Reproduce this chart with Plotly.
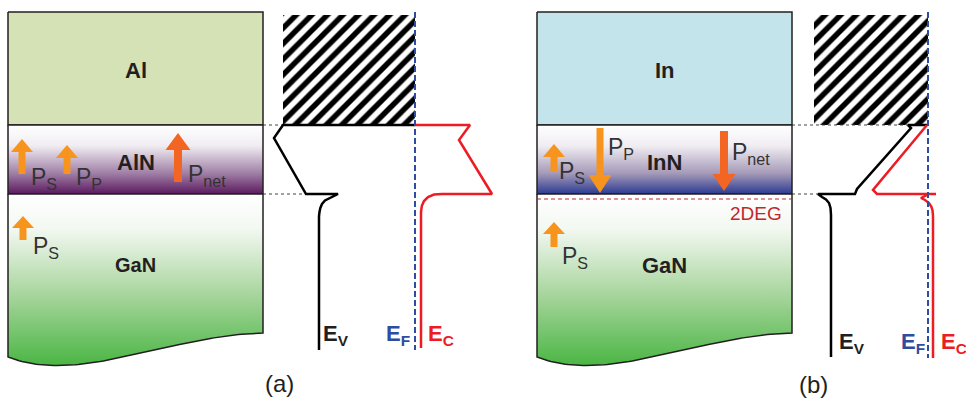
import numpy as np
import plotly.graph_objects as go

W, H = 966, 400
FONT = "Liberation Sans, Arial, sans-serif"
DARK = "#231f20"
BLUE = "#2e4da0"
RED = "#ed1c24"
ORANGE = "#f7941d"
ORANGE2 = "#f26522"

# ---------------- diagram content ----------------
panel_offset = [0, 529]
panel_tags = ["(a)", "(b)"]
metal_names = ["Al", "In"]
barrier_names = ["AlN", "InN"]
channel_name = "GaN"
metal_colors = ["#d4e2b6", "#c4e4eb"]
barrier_bottom_colors = ["#5a1a5e", "#2b3a92"]

# layer boundaries (px in a 966x400 canvas)
box_x = [8, 263]
layer_y = [12, 125, 194]
wave_ctrl_x = [8, 80, 170, 263]
wave_ctrl_y = [357, 385, 335, 333]

# hatched metal (filled states) boxes
hatch_x0 = [283, 814]
hatch_x1 = [415, 928]
hatch_y = [15, 125]

# Fermi levels
ef_x = [415, 928]
ef_y_end = [350, 358]

# valence band edges
ev_a_x = [415, 283, 274, 306, 338, 329, 325, 322, 320.3, 319.5, 319, 319]
ev_a_y = [125, 125, 138, 194, 194, 198, 200.5, 204, 208, 212, 216, 350]
ev_b_x = [927, 908, 911, 857, 855, 818, 822, 826, 829, 830.5, 831, 831]
ev_b_y = [125, 125, 128, 189, 194, 194, 197, 199.5, 203, 208, 215, 357]

# conduction band edges
ec_a_x = [415, 470, 459, 492, 442, 434, 428, 424, 421.8, 421, 421]
ec_a_y = [125, 125, 140, 194, 194, 194.6, 197, 201, 206, 212, 348]
ec_b1_x = [927, 873, 877, 936]
ec_b1_y = [125, 190, 194, 194]
ec_b2_x = [928, 921, 925, 929, 931.5, 932.6, 933, 933]
ec_b2_y = [194.5, 198, 200, 203, 207, 211, 216, 358]

# dotted guide lines
guide_x0 = [263, 263, 792, 792]
guide_x1 = [283, 303, 908, 818]
guide_y = [125, 194, 125, 194]

# polarization arrows
arrow_x = [22, 67, 178, 23, 554, 600, 724, 554]
arrow_tail = [174, 174, 182, 240, 171, 128, 131, 247]
arrow_tip = [139, 145, 133, 216, 144, 193, 191, 222]
arrow_color = [ORANGE, ORANGE, ORANGE2, ORANGE, ORANGE, ORANGE, ORANGE2, ORANGE]
arrow_headw = [22, 22, 25, 22, 22, 23, 23, 22]
arrow_headl = [13, 13, 17, 12, 13, 18, 17, 12]
arrow_shaft = [7, 7, 8, 7, 7, 7, 8, 7]

# polarization labels
pol_text = ["P<sub>S</sub>", "P<sub>P</sub>", "P<sub>net</sub>", "P<sub>S</sub>",
            "P<sub>S</sub>", "P<sub>P</sub>", "P<sub>net</sub>", "P<sub>S</sub>"]
pol_x = [29, 74, 186, 31, 557, 606, 730, 560]
pol_y = [178, 178, 175, 247, 172, 148, 153, 257]

# band labels
band_text = ["E<sub>V</sub>", "E<sub>F</sub>", "E<sub>C</sub>",
             "E<sub>V</sub>", "E<sub>F</sub>", "E<sub>C</sub>"]
band_color = [DARK, BLUE, RED, DARK, BLUE, RED]
band_x = [321, 384, 426, 837, 899, 939]
band_y = [335, 335, 335, 343, 343, 343]


def bezier(px, py, n=80):
    t = np.linspace(0, 1, n)
    b = [(1 - t) ** 3, 3 * (1 - t) ** 2 * t, 3 * (1 - t) * t ** 2, t ** 3]
    bx = sum(b[i] * px[i] for i in range(4))
    by = sum(b[i] * py[i] for i in range(4))
    return bx, by


fig = go.Figure()

wx, wy = bezier(wave_ctrl_x, wave_ctrl_y)

for p in range(2):
    o = panel_offset[p]
    xl, xr = box_x[0] + o, box_x[1] + o
    # metal layer
    fig.add_trace(go.Scatter(
        x=[xl, xr, xr, xl, xl], y=[layer_y[0], layer_y[0], layer_y[1], layer_y[1], layer_y[0]],
        fill="toself", fillcolor=metal_colors[p], mode="lines",
        line=dict(color=DARK, width=1.5), hoverinfo="skip"))
    # barrier layer (gradient)
    fig.add_trace(go.Scatter(
        x=[xl, xr, xr, xl, xl], y=[layer_y[1], layer_y[1], layer_y[2], layer_y[2], layer_y[1]],
        fill="toself", mode="lines", line=dict(color=DARK, width=1.5), hoverinfo="skip",
        fillgradient=dict(type="vertical", start=layer_y[1], stop=layer_y[2],
                          colorscale=[[0, "#ffffff"], [0.3, "#f0edf2"], [0.7, "#a59ab8" if p else "#a07fa6"],
                                      [1, barrier_bottom_colors[p]]])))
    # GaN with wavy bottom
    gx = [xl, xr] + list(wx[::-1] + o) + [xl]
    gy = [layer_y[2], layer_y[2]] + list(wy[::-1]) + [layer_y[2]]
    fig.add_trace(go.Scatter(
        x=gx, y=gy, fill="toself", mode="lines", line=dict(color=DARK, width=1.5),
        hoverinfo="skip",
        fillgradient=dict(type="vertical", start=layer_y[2], stop=368,
                          colorscale=[[0, "#ffffff"], [0.2, "#f3f8f1"], [0.6, "#a3d398"],
                                      [1, "#47b541"]])))
    # hatched box
    fig.add_trace(go.Scatter(
        x=[hatch_x0[p], hatch_x1[p], hatch_x1[p], hatch_x0[p], hatch_x0[p]],
        y=[hatch_y[0], hatch_y[0], hatch_y[1], hatch_y[1], hatch_y[0]],
        fill="toself", fillcolor="white", mode="lines", line=dict(width=0, color="white"),
        fillpattern=dict(shape="/", size=11, solidity=0.5, fgcolor="black", bgcolor="white",
                         fgopacity=1),
        hoverinfo="skip"))

# 2DEG line
fig.add_trace(go.Scatter(x=[537, 792], y=[199, 199], mode="lines",
                         line=dict(color="#c1272d", width=1.2, dash="4px,3px"), hoverinfo="skip"))

# dotted guides
for i in range(len(guide_y)):
    fig.add_trace(go.Scatter(x=[guide_x0[i], guide_x1[i]], y=[guide_y[i], guide_y[i]],
                             mode="lines", line=dict(color="#444", width=1.2, dash="dot"),
                             hoverinfo="skip"))

# band edges
for xs, ys, c in [(ev_a_x, ev_a_y, "black"), (ev_b_x, ev_b_y, "black"),
                  (ec_a_x, ec_a_y, RED), (ec_b1_x, ec_b1_y, RED), (ec_b2_x, ec_b2_y, RED)]:
    fig.add_trace(go.Scatter(x=xs, y=ys, mode="lines", line=dict(color=c, width=2.5),
                             hoverinfo="skip"))

# Fermi levels
for p in range(2):
    fig.add_trace(go.Scatter(x=[ef_x[p], ef_x[p]], y=[12, ef_y_end[p]], mode="lines",
                             line=dict(color=BLUE, width=2, dash="6px,3px"), hoverinfo="skip"))

# arrows
for i in range(len(arrow_x)):
    xc, t0, t1 = arrow_x[i], arrow_tail[i], arrow_tip[i]
    d = 1 if t1 > t0 else -1
    base = t1 - d * arrow_headl[i]
    sw, hw = arrow_shaft[i] / 2, arrow_headw[i] / 2
    ax = [xc - sw, xc - sw, xc - hw, xc, xc + hw, xc + sw, xc + sw, xc - sw]
    ay = [t0, base, base, t1, base, base, t0, t0]
    fig.add_trace(go.Scatter(x=ax, y=ay, fill="toself", fillcolor=arrow_color[i], mode="lines",
                             line=dict(width=0, color=arrow_color[i]), hoverinfo="skip"))

ann = []
for p in range(2):
    o = panel_offset[p]
    cx = (box_x[0] + box_x[1]) / 2 + o
    ann.append(dict(x=cx, y=70, text="<b>%s</b>" % metal_names[p],
                    font=dict(size=22, color=DARK)))
    ann.append(dict(x=cx, y=162, text="<b>%s</b>" % barrier_names[p], font=dict(size=22, color=DARK)))
    ann.append(dict(x=cx, y=265, text="<b>%s</b>" % channel_name, font=dict(size=20 if p == 0 else 22, color=DARK)))
ann.append(dict(x=279, y=383, text=panel_tags[0], font=dict(size=24, color=DARK)))
ann.append(dict(x=813, y=384, text=panel_tags[1], font=dict(size=24, color=DARK)))
ann.append(dict(x=756, y=213, text="2DEG", font=dict(size=19, color="#c1272d")))
for i in range(len(pol_text)):
    ann.append(dict(x=pol_x[i], y=pol_y[i], text=pol_text[i], xanchor="left",
                    font=dict(size=23, color="#333333")))
for i in range(len(band_text)):
    ann.append(dict(x=band_x[i], y=band_y[i], text="<b>%s</b>" % band_text[i], xanchor="left",
                    font=dict(size=22, color=band_color[i])))
for a in ann:
    a.setdefault("xanchor", "center")
    a.update(xref="x", yref="y", showarrow=False, yanchor="middle")
    a["font"]["family"] = FONT

fig.update_layout(
    width=W, height=H, margin=dict(l=0, r=0, t=0, b=0),
    paper_bgcolor="white", plot_bgcolor="white", showlegend=False,
    xaxis=dict(range=[0, W], visible=False, fixedrange=True),
    yaxis=dict(range=[H, 0], visible=False, fixedrange=True),
    annotations=ann, font=dict(family=FONT))

fig.write_html("out.html", config={"displayModeBar": False},
               post_script="document.body.style.margin='0';document.body.style.overflow='hidden';")
